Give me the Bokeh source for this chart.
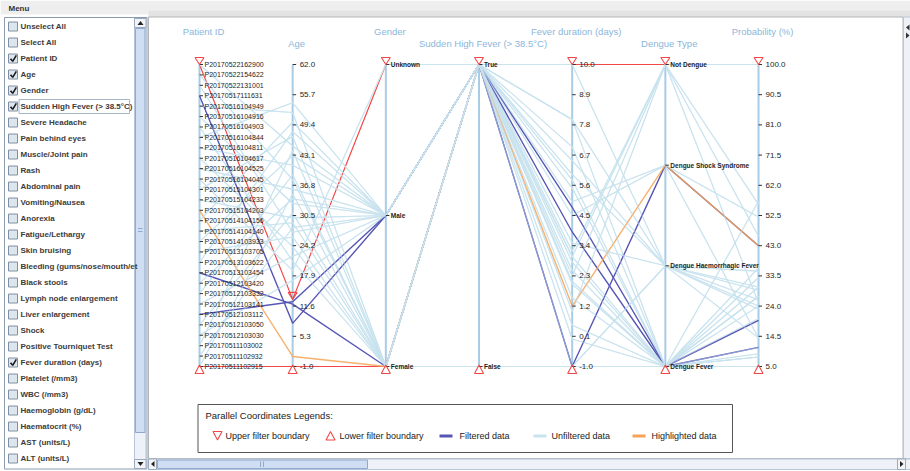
from bokeh.plotting import figure
from bokeh.models import Range1d
from bokeh.core.properties import value
from bokeh.embed import file_html
from bokeh.resources import INLINE

# ---------------- data ----------------
patient_ids = [
    "P20170522162900", "P20170522154622", "P20170522131001", "P20170517111631",
    "P20170516104949", "P20170516104916", "P20170516104903", "P20170516104844",
    "P20170516104811", "P20170516104617", "P20170516104525", "P20170516104045",
    "P20170515104301", "P20170515104233", "P20170515104203", "P20170514104156",
    "P20170514104140", "P20170514103933", "P20170513103705", "P20170513103622",
    "P20170513103454", "P20170512103420", "P20170512103332", "P20170512103141",
    "P20170512103112", "P20170512103050", "P20170512103030", "P20170511103002",
    "P20170511102932", "P20170511102915"]
ages = [45, 38, 27, 8, 52, 33, 21, 54, 41, 24, 36, 19, 47, 30, 1.1,
        50, 29, 43, 26, 48, 12, 34, 39, 22, 12.5, 31, 17, 44, 28, 35]
genders = ["Male", "Female", "Male", "Male", "Female", "Male", "Female", "Male",
           "Male", "Female", "Male", "Unknown", "Female", "Male", "Female",
           "Male", "Female", "Male", "Female", "Male", "Female", "Male",
           "Female", "Male", "Male", "Female", "Male", "Female", "Male", "Female"]
sudden_fever = ["True", "True", "True", "True", "True", "True", "True", "True",
                "True", "False", "True", "True", "True", "True", "True", "True",
                "True", "True", "True", "True", "True", "True", "True", "True",
                "True", "True", "True", "False", "True", "True"]
fever_days = [6.0, 2.3, 3.0, 4.8, 2.0, 10.0, 5.5, 1.0, 3.5, -1.0, 4.5, 2.5, 8.0,
              0.5, 1.2, 6.5, 3.0, 2.1, 7.0, -1.0, 3.9, 5.0, 1.5, 3.2, -1.0,
              2.8, 5.8, -1.0, 8.0, 0.0]
dengue_types = ["Dengue Haemorrhagic Fever", "Not Dengue", "Dengue Fever", "Dengue Fever",
                "Dengue Fever", "Dengue Haemorrhagic Fever", "Dengue Fever", "Not Dengue",
                "Dengue Haemorrhagic Fever", "Dengue Fever", "Dengue Shock Syndrome",
                "Dengue Fever", "Dengue Haemorrhagic Fever", "Dengue Fever",
                "Dengue Shock Syndrome", "Dengue Haemorrhagic Fever", "Not Dengue",
                "Dengue Fever", "Dengue Fever", "Dengue Haemorrhagic Fever", "Dengue Fever",
                "Dengue Shock Syndrome", "Dengue Fever", "Not Dengue", "Dengue Shock Syndrome",
                "Dengue Fever", "Dengue Fever", "Dengue Haemorrhagic Fever", "Dengue Fever",
                "Dengue Fever"]
probabilities = [26, 100, 57, 19.5, 36, 29, 9, 25, 24, 8, 14, 27, 23, 11, 43,
                 14, 56, 5, 33, 30, 11, 52, 24, 46, 43, 20, 30, 35, 27, 8]

axis_titles = ["Patient ID", "Age", "Gender", "Sudden High Fever (> 38.5°C)",
               "Fever duration (days)", "Dengue Type", "Probability (%)"]
gender_levels = ["Female", "Male", "Unknown"]
fever_levels = ["False", "True"]
dengue_levels = ["Dengue Fever", "Dengue Haemorrhagic Fever", "Dengue Shock Syndrome", "Not Dengue"]
age_ticks = [-1.0, 5.3, 11.6, 17.9, 24.2, 30.5, 36.8, 43.1, 49.4, 55.7, 62.0]
days_ticks = [-1.0, 0.1, 1.2, 2.3, 3.4, 4.5, 5.6, 6.7, 7.8, 8.9, 10.0]
prob_ticks = [5.0, 14.5, 24.0, 33.5, 43.0, 52.5, 62.0, 71.5, 81.0, 90.5, 100.0]
age_filter_upper = 13.0
age_filter_lower = -1.0
highlighted_id = "P20170515104203"

menu_items = ["Unselect All", "Select All", "Patient ID", "Age", "Gender",
              "Sudden High Fever (> 38.5°C)", "Severe Headache", "Pain behind eyes",
              "Muscle/Joint pain", "Rash", "Abdominal pain", "Vomiting/Nausea", "Anorexia",
              "Fatigue/Lethargy", "Skin bruising", "Bleeding (gums/nose/mouth/et",
              "Black stools", "Lymph node enlargement", "Liver enlargement", "Shock",
              "Positive Tourniquet Test", "Fever duration (days)", "Platelet (/mm3)",
              "WBC (/mm3)", "Haemoglobin (g/dL)", "Haematocrit (%)", "AST (units/L)",
              "ALT (units/L)"]
checked_items = ["Patient ID", "Age", "Gender", "Sudden High Fever (> 38.5°C)",
                 "Fever duration (days)"]
focused_item = "Sudden High Fever (> 38.5°C)"
legend_title = "Parallel Coordinates Legends:"
legend_labels = ["Upper filter boundary", "Lower filter boundary", "Filtered data",
                 "Unfiltered data", "Highlighted data"]

# ---------------- styles ----------------
FONT = value("Liberation Sans")
C_LIGHT = "#c9e4ef"
C_FILT = "#5656b4"
C_HI = "#f7a254"
C_RED = "#f24848"
C_AXIS = "#a9cce6"
C_TITLE = "#8cb6da"
W, H = 910, 471
PX_X = 93.17   # pixels per axis step
PX_Y = 302.0   # pixels per normalized unit

p = figure(width=W, height=H, x_range=Range1d(0, W), y_range=Range1d(H, 0),
           output_backend="svg", toolbar_location=None, min_border=0,
           x_axis_type=None, y_axis_type=None, title=None)
p.outline_line_color = None
p.background_fill_color = "white"
p.border_fill_color = "white"
x0 = -199 / PX_X
y0 = -(H - 366) / PX_Y
p.extra_x_ranges = {"pcx": Range1d(x0, x0 + W / PX_X)}
p.extra_y_ranges = {"pcy": Range1d(y0, y0 + H / PX_Y)}
PC = dict(x_range_name="pcx", y_range_name="pcy")
PCX = dict(x_range_name="pcx", y_range_name="default")

# ---------------- window chrome ----------------
p.quad(left=0, right=W, top=0, bottom=14, fill_color="#eeeeee", line_color=None)
p.text(x=[8], y=[8], text=["Menu"], text_font=FONT, text_font_style="bold",
       text_font_size="8px", text_color="#333333", text_baseline="middle")
# chart panel
p.quad(left=148, right=W, top=10, bottom=16.5, fill_color="#e3e3e3", line_color=None)
p.quad(left=148, right=902.5, top=16.5, bottom=458, fill_color="white", line_color="#b4b4b4")
# right scrollbar strip (mostly off-window)
p.quad(left=903, right=W + 2, top=16.5, bottom=458, fill_color="#eef2f8", line_color="#b7c6d8")
p.patch(x=[909, 909, 905.5], y=[24, 30, 27], fill_color="#333333", line_color=None)
p.patch(x=[905.5, 905.5, 909], y=[32, 38, 35], fill_color="#333333", line_color=None)
# sidebar list
p.quad(left=4, right=146.5, top=17, bottom=468.5, fill_color="white", line_color="#8c9cb0")

# sidebar scrollbar
p.quad(left=134, right=145.5, top=18, bottom=468, fill_color="#eef2f8", line_color="#b7c6d8")
p.quad(left=134, right=145.5, top=18, bottom=27, fill_color="#f2f4f7", line_color="#9aabbf")
p.quad(left=134, right=145.5, top=459, bottom=468, fill_color="#f2f4f7", line_color="#9aabbf")
p.patch(x=[137, 143, 140], y=[24.5, 24.5, 20.5], fill_color="#222222", line_color=None)
p.patch(x=[137, 143, 140], y=[461.5, 461.5, 465.5], fill_color="#222222", line_color=None)
p.quad(left=135, right=144.5, top=28, bottom=432, fill_color="#cfdef2", line_color="#8faad0")
p.segment(x0=[137.5, 137.5], y0=[228, 231], x1=[142, 142], y1=[228, 231], line_color="#8faad0")

# menu items
item_y = [26 + 16.0 * k for k in range(len(menu_items))]
p.quad(left=8, right=17, top=[y - 4.5 for y in item_y], bottom=[y + 4.5 for y in item_y],
       fill_color="#dde5ee", line_color="#7f90a4")
p.text(x=[20] * len(menu_items), y=item_y, text=menu_items, text_font=FONT,
       text_font_style="bold", text_font_size="8px", text_color="#3c3c3c",
       text_baseline="middle")
chk_y = [item_y[menu_items.index(c)] for c in checked_items]
p.multi_line(xs=[[10, 12.2, 15.8] for _ in chk_y],
             ys=[[y + 0.3, y + 2.8, y - 3.2] for y in chk_y],
             line_color="#1c1c1c", line_width=1.6)
fy = item_y[menu_items.index(focused_item)]
p.quad(left=18.5, right=129, top=fy - 7, bottom=fy + 7, fill_color=None, line_color="#a5b6c9")

# bottom scrollbar
p.quad(left=148, right=W + 2, top=458.5, bottom=469, fill_color="#eef2f8", line_color="#b7c6d8")
p.quad(left=148, right=156, top=458.5, bottom=469, fill_color="#f2f4f7", line_color="#9aabbf")
p.quad(left=897, right=905, top=458.5, bottom=469, fill_color="#f2f4f7", line_color="#9aabbf")
p.patch(x=[154, 154, 150.5], y=[460.5, 466.5, 463.5], fill_color="#222222", line_color=None)
p.patch(x=[899.5, 899.5, 903], y=[460.5, 466.5, 463.5], fill_color="#222222", line_color=None)
p.quad(left=157, right=367, top=459.5, bottom=468, fill_color="#cfdef2", line_color="#8faad0")
p.segment(x0=[260, 263], y0=[461, 461], x1=[260, 263], y1=[466.5, 466.5], line_color="#8faad0")

# ---------------- parallel coordinates ----------------
n = len(patient_ids)


def norm_num(v, ticks):
    return (v - ticks[0]) / (ticks[-1] - ticks[0])


def norm_cat(v, levels):
    return levels.index(v) / (len(levels) - 1)


rows = []
for k in range(n):
    rows.append([1 - k / (n - 1),
                 norm_num(ages[k], age_ticks),
                 norm_cat(genders[k], gender_levels),
                 norm_cat(sudden_fever[k], fever_levels),
                 norm_num(fever_days[k], days_ticks),
                 norm_cat(dengue_types[k], dengue_levels),
                 norm_num(probabilities[k], prob_ticks)])

status = []
for k in range(n):
    if patient_ids[k] == highlighted_id:
        status.append("hi")
    elif age_filter_lower <= ages[k] <= age_filter_upper:
        status.append("filt")
    else:
        status.append("un")

n_axes = len(axis_titles)
axis_x = list(range(n_axes))

# axis lines
p.segment(x0=axis_x, y0=[0] * n_axes, x1=axis_x, y1=[1] * n_axes,
          line_color=C_AXIS, line_width=2, **PC)

# filter boundary lines
upper = [1, norm_num(age_filter_upper, age_ticks), 1, 1, 1, 1, 1]
lower = [0, norm_num(age_filter_lower, age_ticks), 0, 0, 0, 0, 0]
p.line(x=axis_x, y=upper, line_color=C_RED, line_width=1.2, **PC)
p.line(x=axis_x, y=lower, line_color=C_RED, line_width=1.2, **PC)


def group(st):
    ks = [k for k in range(n) if status[k] == st]
    return [axis_x for _ in ks], [rows[k] for k in ks]


un_xs, un_ys = group("un")
# opaque unfiltered layer (hides boundary lines where data coincide)
p.multi_line(xs=un_xs, ys=un_ys, line_color=C_LIGHT, line_width=1.1, **PC)
fx, fyy = group("filt")
p.multi_line(xs=fx, ys=fyy, line_color=C_FILT, line_width=1.4, **PC)
hx, hy = group("hi")
p.multi_line(xs=hx, ys=hy, line_color=C_HI, line_width=1.4, line_alpha=0.85, **PC)
# translucent unfiltered wash on top (mutes shared segments)
p.multi_line(xs=un_xs, ys=un_ys, line_color=C_LIGHT, line_width=1.1, line_alpha=0.5, **PC)

dx = 1 / PX_X
dy = 1 / PX_Y


def ticks_and_labels(ax, positions, labels, size, style, offset):
    p.segment(x0=[ax] * len(positions), y0=positions, x1=[ax + 3.5 * dx] * len(positions),
              y1=positions, line_color="#333333", line_width=1, **PC)
    p.text(x=[ax] * len(positions), y=positions, text=labels, x_offset=offset,
           text_font=FONT, text_font_size=size, text_font_style=style,
           text_color="#1e1e1e", text_baseline="middle", text_align="left", **PC)


ticks_and_labels(0, [r[0] for r in rows], patient_ids, "7px", "normal", 5)
ticks_and_labels(1, [norm_num(t, age_ticks) for t in age_ticks],
                 ["%.1f" % t for t in age_ticks], "8px", "normal", 7)
ticks_and_labels(2, [norm_cat(c, gender_levels) for c in gender_levels], gender_levels,
                 "6.5px", "bold", 5)
ticks_and_labels(3, [norm_cat(c, fever_levels) for c in fever_levels], fever_levels,
                 "6.5px", "bold", 5)
ticks_and_labels(4, [norm_num(t, days_ticks) for t in days_ticks],
                 ["%.1f" % t for t in days_ticks], "8px", "normal", 7)
ticks_and_labels(5, [norm_cat(c, dengue_levels) for c in dengue_levels], dengue_levels,
                 "6.5px", "bold", 5)
ticks_and_labels(6, [norm_num(t, prob_ticks) for t in prob_ticks],
                 ["%.1f" % t for t in prob_ticks], "8px", "normal", 7)

# filter triangles
up_xs, up_ys, lo_xs, lo_ys = [], [], [], []
for ax in axis_x:
    u = upper[ax]
    up_xs.append([ax - 4.5 * dx, ax + 4.5 * dx, ax])
    up_ys.append([u + 7 * dy, u + 7 * dy, u])
    lo = lower[ax]
    lo_xs.append([ax - 4.5 * dx, ax + 4.5 * dx, ax])
    lo_ys.append([lo - 7 * dy, lo - 7 * dy, lo + 1.5 * dy])
p.patches(xs=up_xs, ys=up_ys, fill_color=None, line_color=C_RED, line_width=1.1, **PC)
p.patches(xs=lo_xs, ys=lo_ys, fill_color=None, line_color=C_RED, line_width=1.1, **PC)

# axis titles
p.text(x=axis_x, y=[31 if a % 2 == 0 else 43 for a in axis_x], text=axis_titles,
       x_offset=4, text_font=FONT, text_font_size="9.5px", text_color=C_TITLE,
       text_align="center", text_baseline="middle", **PCX)

# ---------------- legend box ----------------
p.quad(left=197.5, right=732, top=404, bottom=452, fill_color="white", line_color="#555555")
p.text(x=[205], y=[414.5], text=[legend_title], text_font=FONT, text_font_size="9.5px",
       text_color="#222222", text_baseline="middle")
p.patch(x=[212.5, 221.5, 217], y=[431, 431, 439.5], fill_color=None, line_color=C_RED,
        line_width=1.1)
p.patch(x=[325.5, 334.5, 330], y=[439.5, 439.5, 431], fill_color=None, line_color=C_RED,
        line_width=1.1)
p.segment(x0=[439, 533, 632], y0=[435.5] * 3, x1=[452, 546, 645], y1=[435.5] * 3,
          line_color=[C_FILT, C_LIGHT, C_HI], line_width=3)
p.text(x=[225, 339, 459, 551, 651], y=[435.5] * 5, text=legend_labels, text_font=FONT,
       text_font_size="9px", text_color="#222222", text_baseline="middle")

open("out.html", "w").write(file_html(p, INLINE))
